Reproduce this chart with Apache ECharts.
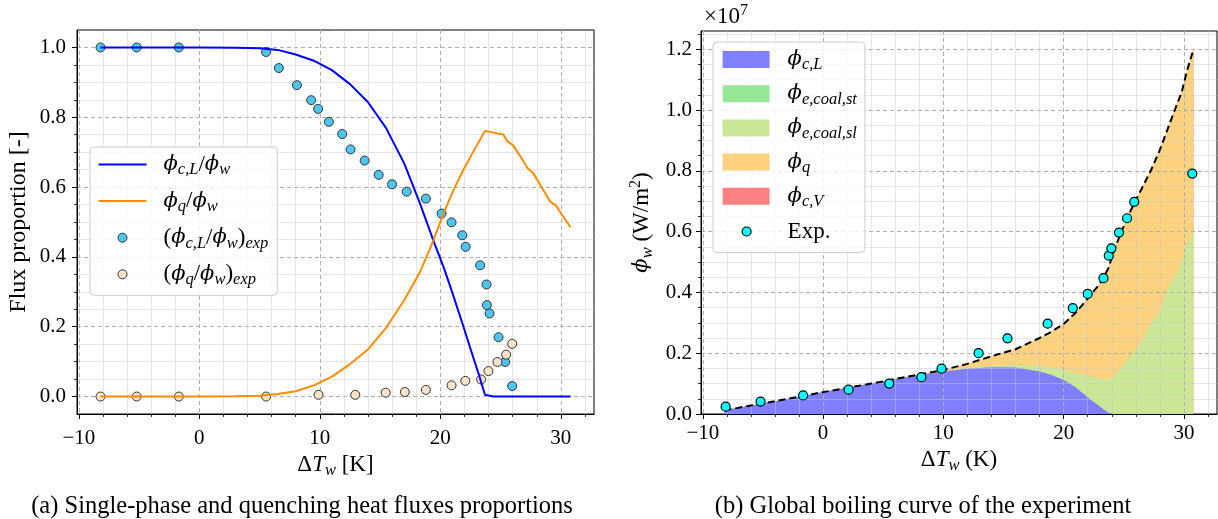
<!DOCTYPE html>
<html><head><meta charset="utf-8">
<script src="https://cdn.jsdelivr.net/npm/echarts@6/dist/echarts.min.js"></script>
<style>html,body{margin:0;padding:0;background:#fff}#c{width:1218px;height:519px}</style>
</head><body><div id="c"></div>
<script>
// ---------------- data ----------------
const X_MIN = -10.15, X_MAX = 32.75;
const X_TICKS = [-10, 0, 10, 20, 30];
const X_MINOR = [-8, -6, -4, -2, 2, 4, 6, 8, 12, 14, 16, 18, 22, 24, 26, 28, 32];
const YL_TICKS = [0, 0.2, 0.4, 0.6, 0.8, 1.0];
const YL_MINOR = [0.05, 0.1, 0.15, 0.25, 0.3, 0.35, 0.45, 0.5, 0.55, 0.65, 0.7, 0.75, 0.85, 0.9, 0.95];
const YR_TICKS = [0, 0.2, 0.4, 0.6, 0.8, 1.0, 1.2];
const YR_MINOR = [0.05, 0.1, 0.15, 0.25, 0.3, 0.35, 0.45, 0.5, 0.55, 0.65, 0.7, 0.75, 0.85, 0.9, 0.95, 1.05, 1.1, 1.15, 1.25];

// (a) model curves
const modelX = [-8.2, -4, 0, 3, 5, 6.5, 8, 9.5, 11, 12.5, 14, 15.5, 17, 18.3, 19.4, 20.3, 21, 21.9, 22.6, 23.2, 23.7, 24.4, 25.2, 25.6, 26.0, 26.6, 27.25, 27.7, 28.4, 29.1, 29.6, 30.2, 30.8];
const ratioCL = [1.0, 1.0, 1.0, 0.9995, 0.998, 0.993, 0.98, 0.962, 0.935, 0.895, 0.843, 0.769, 0.668, 0.554, 0.449, 0.368, 0.297, 0.202, 0.126, 0.062, 0.005, 0, 0, 0, 0, 0, 0, 0, 0, 0, 0, 0, 0];
const ratioQ = [0, 0, 0, 0.0005, 0.002, 0.007, 0.015, 0.032, 0.057, 0.093, 0.135, 0.197, 0.276, 0.356, 0.445, 0.527, 0.585, 0.649, 0.693, 0.73, 0.761, 0.756, 0.751, 0.73, 0.721, 0.69, 0.654, 0.64, 0.6, 0.559, 0.547, 0.515, 0.485];
// (a) experimental points
const expCL_x = [-8.2, -5.2, -1.7, 5.54, 6.6, 8.1, 9.28, 9.86, 10.75, 11.86, 12.55, 13.72, 14.88, 15.99, 17.21, 18.8, 20.1, 20.93, 21.82, 22.1, 23.3, 23.83, 23.86, 24.08, 24.83, 25.38, 25.96];
const expCL_y = [1.0, 1.0, 1.0, 0.987, 0.941, 0.892, 0.849, 0.824, 0.787, 0.752, 0.708, 0.676, 0.635, 0.608, 0.587, 0.567, 0.524, 0.499, 0.462, 0.429, 0.376, 0.321, 0.262, 0.238, 0.170, 0.099, 0.030];
const expQ_x = [-8.2, -5.2, -1.7, 5.54, 9.89, 12.94, 15.46, 17.05, 18.8, 20.93, 22.07, 23.38, 23.99, 24.74, 25.46, 25.96];
const expQ_y = [0, 0, 0, 0, 0.005, 0.005, 0.011, 0.013, 0.019, 0.032, 0.045, 0.049, 0.073, 0.099, 0.12, 0.151];

// (b) flux components (x 1e7 W/m2), stacked in this order
const fluxX = [-8.2, -6, -4, -2, 0, 2, 4, 6, 8, 10, 12, 14, 16, 18, 19, 20, 21, 22, 23, 23.7, 24.3, 25, 25.7, 26.5, 27.3, 28, 28.5, 29, 29.3, 29.8, 30.3, 30.8];
const phiCL = [0.012, 0.028, 0.042, 0.057, 0.072, 0.086, 0.100, 0.115, 0.128, 0.140, 0.149, 0.154, 0.153, 0.140, 0.128, 0.112, 0.088, 0.055, 0.025, 0.004, 0, 0, 0, 0, 0, 0, 0, 0, 0, 0, 0, 0];
const phiCoalSt = [0, 0, 0, 0, 0, 0, 0, 0, 0, 0, 0, 0, 0, 0, 0, 0, 0, 0, 0, 0, 0, 0, 0, 0, 0, 0, 0, 0, 0, 0, 0, 0];
const phiCoalSl = [0, 0, 0, 0, 0, 0, 0, 0, 0, 0, 0.002, 0.004, 0.009, 0.018, 0.024, 0.034, 0.048, 0.071, 0.091, 0.107, 0.13, 0.16, 0.195, 0.245, 0.30, 0.34, 0.40, 0.44, 0.455, 0.50, 0.56, 0.605];
const phiQ = [0, 0, 0, 0, 0, 0, 0, 0, 0.002, 0.005, 0.014, 0.032, 0.051, 0.092, 0.119, 0.15, 0.197, 0.254, 0.312, 0.367, 0.42, 0.458, 0.485, 0.497, 0.505, 0.529, 0.522, 0.535, 0.551, 0.557, 0.575, 0.595];
const phiCV = [0, 0, 0, 0, 0, 0, 0, 0, 0, 0, 0, 0, 0, 0, 0, 0, 0, 0, 0, 0, 0, 0, 0, 0, 0, 0, 0, 0, 0, 0, 0, 0];
const phiTotal = [0.012, 0.028, 0.042, 0.057, 0.072, 0.086, 0.100, 0.115, 0.130, 0.145, 0.165, 0.19, 0.213, 0.25, 0.271, 0.296, 0.333, 0.38, 0.428, 0.478, 0.55, 0.618, 0.68, 0.742, 0.805, 0.869, 0.922, 0.975, 1.006, 1.057, 1.135, 1.2];
const expW_x = [-8.1, -5.2, -1.66, 2.12, 5.5, 8.17, 9.85, 12.93, 15.33, 18.67, 20.76, 22.0, 23.31, 23.75, 23.97, 24.6, 25.27, 25.87, 30.7];
const expW_y = [0.024, 0.041, 0.061, 0.080, 0.100, 0.121, 0.149, 0.200, 0.249, 0.297, 0.348, 0.395, 0.447, 0.521, 0.545, 0.597, 0.644, 0.698, 0.791];

// ---------------- presentation ----------------
const pairs = (xs, ys) => xs.map((x, i) => [x, ys[i]]);
const addArr = (a, b) => a.map((v, i) => v + b[i]);
const cum1 = phiCL, cum2 = addArr(cum1, phiCoalSt), cum3 = addArr(cum2, phiCoalSl), cum4 = addArr(cum3, phiQ), cum5 = addArr(cum4, phiCV);

const F = 21;       // tick labels
const T = 23;       // labels / legend text
const SERIF = 'Liberation Serif';
const rich = {
  r: {fontFamily: SERIF, fontSize: T, lineHeight: 28, color: '#000'},
  g: {fontFamily: 'DejaVu Serif', fontStyle: 'italic', fontSize: T - 2, lineHeight: 28, color: '#000'},
  i: {fontFamily: SERIF, fontStyle: 'italic', fontSize: T, lineHeight: 28, color: '#000'},
  s: {fontFamily: SERIF, fontStyle: 'italic', fontSize: 16.5, lineHeight: 14, verticalAlign: 'bottom', color: '#000'},
  p: {fontFamily: SERIF, fontSize: 16, lineHeight: 14, verticalAlign: 'top', color: '#000'}
};
const LABELS = {
  'ϕc,L/ϕw': '{g|ϕ}{s|c,L}{r|/}{g|ϕ}{s|w}',
  'ϕq/ϕw': '{g|ϕ}{s|q}{r|/}{g|ϕ}{s|w}',
  '(ϕc,L/ϕw)exp': '{r|(}{g|ϕ}{s|c,L}{r|/}{g|ϕ}{s|w}{r|)}{s|exp}',
  '(ϕq/ϕw)exp': '{r|(}{g|ϕ}{s|q}{r|/}{g|ϕ}{s|w}{r|)}{s|exp}',
  'ϕc,L': '{g|ϕ}{s|c,L}',
  'ϕe,coal,st': '{g|ϕ}{s|e,coal,st}',
  'ϕe,coal,sl': '{g|ϕ}{s|e,coal,sl}',
  'ϕq': '{g|ϕ}{s|q}',
  'ϕc,V': '{g|ϕ}{s|c,V}',
  'Exp.': '{r|Exp.}{s| }'
};
const LINE_ICON = 'path://M0,0 M60,18 M0,8 L48,8 L48,10 L0,10 Z';
const CIRC_ICON = 'path://M0,0 M60,18 M19.5,9 A4.5,4.5 0 1 1 28.5,9 A4.5,4.5 0 1 1 19.5,9 Z';
const RECT_ICON = 'path://M0,0 M60,18 M0,0.5 L47,0.5 L47,17.5 L0,17.5 Z';

const C_BLUE = '#0000ff', C_ORANGE = '#ff8c00', C_EXPCL = '#4cc6ee', C_EXPQ = '#fbe3c9';
const A_CL = '#8080ff', A_ST = '#98e698', A_SL = '#cce698', A_Q = '#ffd280', A_CV = '#ff8080';

const fmtX = v => (v < 0 ? '\u2212' + Math.abs(v) : String(v));
const fmtY = v => v.toFixed(1);

function xMajor(gi, margin, name) {
  return {type: 'value', gridIndex: gi, min: X_MIN, max: X_MAX, position: 'bottom', z: 2,
    axisLine: {show: true, onZero: false, lineStyle: {color: '#000', width: 1}},
    axisTick: {show: true, customValues: X_TICKS, length: 5, lineStyle: {color: '#000', width: 1}},
    axisLabel: {show: true, customValues: X_TICKS, margin: margin, fontFamily: SERIF, fontSize: F, color: '#000', formatter: fmtX},
    splitLine: {show: true, lineStyle: {color: '#b0b0b0', type: [4, 3], width: 1}},
    name: name, nameLocation: 'middle', nameGap: 31, nameTextStyle: {rich: rich}};
}
function xMinor(gi) {
  return {type: 'value', gridIndex: gi, min: X_MIN, max: X_MAX, position: 'bottom', z: 2,
    axisLine: {show: false, onZero: false},
    axisTick: {show: true, customValues: X_MINOR, length: 3, lineStyle: {color: '#000', width: 0.8}},
    axisLabel: {show: false, customValues: X_MINOR},
    splitLine: {show: true, lineStyle: {color: 'rgba(200,200,200,0.45)', width: 1}}};
}
function yMajor(gi, min, max, ticks, margin, name, gap) {
  return {type: 'value', gridIndex: gi, min: min, max: max, position: 'left', z: 2,
    axisLine: {show: true, onZero: false, lineStyle: {color: '#000', width: 1}},
    axisTick: {show: true, customValues: ticks, length: 5, lineStyle: {color: '#000', width: 1}},
    axisLabel: {show: true, customValues: ticks, margin: margin, fontFamily: SERIF, fontSize: F, color: '#000', formatter: fmtY},
    splitLine: {show: true, lineStyle: {color: '#b0b0b0', type: [4, 3], width: 1}},
    name: name, nameLocation: 'middle', nameGap: gap, nameRotate: 90,
    nameTextStyle: {rich: rich, fontFamily: SERIF, fontSize: 24, lineHeight: 28, color: '#000'}};
}
function yMinor(gi, min, max, ticks) {
  return {type: 'value', gridIndex: gi, min: min, max: max, position: 'left', z: 2,
    axisLine: {show: false, onZero: false},
    axisTick: {show: true, customValues: ticks, length: 3, lineStyle: {color: '#000', width: 0.8}},
    axisLabel: {show: false, customValues: ticks},
    splitLine: {show: true, lineStyle: {color: 'rgba(200,200,200,0.45)', width: 1}}};
}

function band(name, ys, color) {
  return {name: name, type: 'line', xAxisIndex: 1, yAxisIndex: 1, data: pairs(fluxX, ys),
    symbol: 'none', showSymbol: false, color: color, itemStyle: {color: color},
    lineStyle: {width: 0, opacity: 0}, areaStyle: {color: color, opacity: 1, origin: 'start'}, z: 1, silent: true};
}

const option = {
  animation: false,
  backgroundColor: '#fff',
  grid: [
    {left: 77, top: 30, width: 517, height: 384, show: true, borderColor: '#000', borderWidth: 1, backgroundColor: 'transparent'},
    {left: 701, top: 31, width: 516, height: 383, show: true, borderColor: '#000', borderWidth: 1, backgroundColor: 'transparent'}
  ],
  xAxis: [
    xMajor(0, 14, '{r|Δ}{i|T}{s|w}{r| [K]}'),
    xMajor(1, 9, '{r|Δ}{i|T}{s|w}{r| (K)}'),
    xMinor(0),
    xMinor(1)
  ],
  yAxis: [
    yMajor(0, -0.05, 1.05, YL_TICKS, 11, 'Flux proportion [-]', 44),
    yMajor(1, 0, 1.26, YR_TICKS, 9, '{g|ϕ}{s|w}{r| (W/m}{p|2}{r|)}', 45),
    yMinor(0, -0.05, 1.05, YL_MINOR),
    yMinor(1, 0, 1.26, YR_MINOR)
  ],
  legend: [
    {selectedMode: false, orient: 'vertical', left: 90, top: 147, padding: [6, 9, 7, 8], itemGap: 11.1,
     itemWidth: 60, itemHeight: 18, backgroundColor: 'rgba(255,255,255,0.8)', borderColor: '#cccccc', borderWidth: 1, borderRadius: 4,
     formatter: n => LABELS[n], textStyle: {rich: rich}, z: 6,
     data: [
       {name: 'ϕc,L/ϕw', icon: LINE_ICON, itemStyle: {color: C_BLUE, borderWidth: 0}},
       {name: 'ϕq/ϕw', icon: LINE_ICON, itemStyle: {color: C_ORANGE, borderWidth: 0}},
       {name: '(ϕc,L/ϕw)exp', icon: CIRC_ICON, itemStyle: {color: C_EXPCL, borderColor: '#333', borderWidth: 1}},
       {name: '(ϕq/ϕw)exp', icon: CIRC_ICON, itemStyle: {color: C_EXPQ, borderColor: '#333', borderWidth: 1}}
     ]},
    {selectedMode: false, orient: 'vertical', left: 713, top: 42, padding: [7, 8, 7, 9], itemGap: 9.7,
     itemWidth: 60, itemHeight: 18, backgroundColor: 'rgba(255,255,255,0.8)', borderColor: '#cccccc', borderWidth: 1, borderRadius: 4,
     formatter: n => LABELS[n], textStyle: {rich: rich}, z: 6,
     data: [
       {name: 'ϕc,L', icon: RECT_ICON, itemStyle: {color: A_CL, borderWidth: 0}},
       {name: 'ϕe,coal,st', icon: RECT_ICON, itemStyle: {color: A_ST, borderWidth: 0}},
       {name: 'ϕe,coal,sl', icon: RECT_ICON, itemStyle: {color: A_SL, borderWidth: 0}},
       {name: 'ϕq', icon: RECT_ICON, itemStyle: {color: A_Q, borderWidth: 0}},
       {name: 'ϕc,V', icon: RECT_ICON, itemStyle: {color: A_CV, borderWidth: 0}},
       {name: 'Exp.', icon: CIRC_ICON, itemStyle: {color: '#00ffff', borderColor: '#000', borderWidth: 1.2}}
     ]}
  ],
  graphic: [
    {type: 'text', x: 302, y: 507, silent: true,
     style: {text: '(a) Single-phase and quenching heat fluxes proportions', font: '24.5px "Liberation Serif"', fill: '#000', align: 'center', verticalAlign: 'middle', textAlign: 'center', textVerticalAlign: 'middle'}},
    {type: 'text', x: 923, y: 507, silent: true,
     style: {text: '(b) Global boiling curve of the experiment', font: '24.5px "Liberation Serif"', fill: '#000', align: 'center', verticalAlign: 'middle', textAlign: 'center', textVerticalAlign: 'middle'}},
    {type: 'text', x: 704, y: 3, silent: true,
     style: {text: '{r|×10}{p|7}', rich: rich, fill: '#000'}}
  ],
  series: [
    {name: '(ϕc,L/ϕw)exp', type: 'scatter', xAxisIndex: 0, yAxisIndex: 0, data: pairs(expCL_x, expCL_y), symbolSize: 9,
     itemStyle: {color: C_EXPCL, borderColor: '#333', borderWidth: 1, opacity: 1}, z: 3, silent: true},
    {name: '(ϕq/ϕw)exp', type: 'scatter', xAxisIndex: 0, yAxisIndex: 0, data: pairs(expQ_x, expQ_y), symbolSize: 9,
     itemStyle: {color: C_EXPQ, borderColor: '#333', borderWidth: 1, opacity: 1}, z: 3, silent: true},
    {name: 'ϕc,L/ϕw', type: 'line', xAxisIndex: 0, yAxisIndex: 0, data: pairs(modelX, ratioCL), symbol: 'none', showSymbol: false,
     color: C_BLUE, lineStyle: {color: C_BLUE, width: 2}, z: 4, silent: true},
    {name: 'ϕq/ϕw', type: 'line', xAxisIndex: 0, yAxisIndex: 0, data: pairs(modelX, ratioQ), symbol: 'none', showSymbol: false,
     color: C_ORANGE, lineStyle: {color: C_ORANGE, width: 2}, z: 4, silent: true},
    // bands drawn from the top of the stack downwards so each lower band covers the previous one
    band('ϕc,V', cum5, A_CV),
    band('ϕq', cum4, A_Q),
    band('ϕe,coal,sl', cum3, A_SL),
    band('ϕe,coal,st', cum2, A_ST),
    band('ϕc,L', cum1, A_CL),
    {name: 'total', type: 'line', xAxisIndex: 1, yAxisIndex: 1, data: pairs(fluxX, phiTotal), symbol: 'none', showSymbol: false,
     lineStyle: {color: '#000', width: 2, type: [7, 4]}, z: 4, silent: true},
    {name: 'Exp.', type: 'scatter', xAxisIndex: 1, yAxisIndex: 1, data: pairs(expW_x, expW_y), symbolSize: 9,
     itemStyle: {color: '#00ffff', borderColor: '#000', borderWidth: 1.2, opacity: 1}, z: 5, silent: true}
  ]
};
const chart = echarts.init(document.getElementById('c'), null, {renderer: 'canvas'});
chart.setOption(option);
</script></body></html>
